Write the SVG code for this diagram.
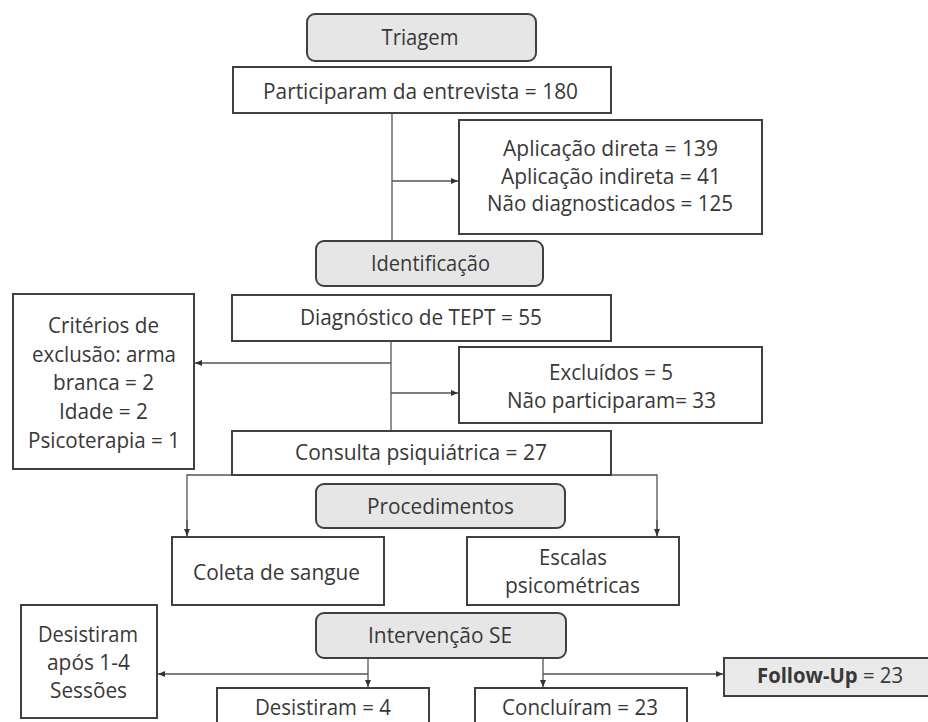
<svg xmlns="http://www.w3.org/2000/svg" width="928" height="722" viewBox="0 0 928 722">
<style>
  .box { fill: #ffffff; stroke: #404040; stroke-width: 2; }
  .hdr { fill: #e6e6e6; stroke: #404040; stroke-width: 2; }
  .fu { fill: #e9e9e9; stroke: #404040; stroke-width: 2; }
  .t { font-family: "Open Sans", "Noto Sans", "Liberation Sans", sans-serif; font-size: 21px; fill: #383838; text-anchor: middle; }
  .c { fill: none; stroke: #555555; stroke-width: 1.3; }
</style>
<defs>
  <marker id="arr" markerUnits="userSpaceOnUse" markerWidth="8" markerHeight="8" refX="7" refY="4" orient="auto">
    <path d="M0,1 L7,4 L0,7 Z" fill="#333333"/>
  </marker>
</defs>
<rect width="928" height="722" fill="#ffffff"/>

<g id="connectors">
  <path class="c" d="M392,113 V241"/>
  <path class="c" d="M392,181 H458" marker-end="url(#arr)"/>
  <path class="c" d="M391,341 V431"/>
  <path class="c" d="M391,363 H195" marker-end="url(#arr)"/>
  <path class="c" d="M391,393 H458" marker-end="url(#arr)"/>
  <path class="c" d="M187,536 V475 H657 V536" />
  <path class="c" d="M187,520 V536" marker-end="url(#arr)"/>
  <path class="c" d="M657,520 V536" marker-end="url(#arr)"/>
  <path class="c" d="M368,658 V687" marker-end="url(#arr)"/>
  <path class="c" d="M368,674 H158" marker-end="url(#arr)"/>
  <path class="c" d="M543,658 V687" marker-end="url(#arr)"/>
  <path class="c" d="M543,674 H723" marker-end="url(#arr)"/>
</g>

<g id="triagem">
  <rect class="hdr" x="307" y="14" width="229" height="47" rx="8"/>
  <text class="t" x="420" y="45" textLength="77" lengthAdjust="spacingAndGlyphs">Triagem</text>
</g>
<g id="participaram">
  <rect class="box" x="233" y="67" width="378" height="46"/>
  <text class="t" x="420.5" y="99" textLength="315" lengthAdjust="spacingAndGlyphs">Participaram da entrevista = 180</text>
</g>
<g id="aplicacao">
  <rect class="box" x="459" y="120" width="303" height="114"/>
  <text class="t" x="610.5" y="156" textLength="215" lengthAdjust="spacingAndGlyphs">Aplicação direta = 139</text>
  <text class="t" x="611" y="184" textLength="220" lengthAdjust="spacingAndGlyphs">Aplicação indireta = 41</text>
  <text class="t" x="610" y="211" textLength="246" lengthAdjust="spacingAndGlyphs">Não diagnosticados = 125</text>
</g>
<g id="identificacao">
  <rect class="hdr" x="316" y="241" width="227" height="45" rx="8"/>
  <text class="t" x="430.5" y="271" textLength="119" lengthAdjust="spacingAndGlyphs">Identificação</text>
</g>
<g id="diagnostico">
  <rect class="box" x="232" y="295" width="379" height="46"/>
  <text class="t" x="421" y="325" textLength="242" lengthAdjust="spacingAndGlyphs">Diagnóstico de TEPT = 55</text>
</g>
<g id="criterios">
  <rect class="box" x="13" y="294" width="181" height="175"/>
  <text class="t" x="103.5" y="333" textLength="111" lengthAdjust="spacingAndGlyphs">Critérios de</text>
  <text class="t" x="104" y="362" textLength="144" lengthAdjust="spacingAndGlyphs">exclusão: arma</text>
  <text class="t" x="103.5" y="390" textLength="101" lengthAdjust="spacingAndGlyphs">branca = 2</text>
  <text class="t" x="103.5" y="419" textLength="89" lengthAdjust="spacingAndGlyphs">Idade = 2</text>
  <text class="t" x="104" y="448" textLength="152" lengthAdjust="spacingAndGlyphs">Psicoterapia = 1</text>
</g>
<g id="excluidos">
  <rect class="box" x="459" y="347" width="303" height="76"/>
  <text class="t" x="611" y="380" textLength="124" lengthAdjust="spacingAndGlyphs">Excluídos = 5</text>
  <text class="t" x="611.5" y="408" textLength="209" lengthAdjust="spacingAndGlyphs">Não participaram= 33</text>
</g>
<g id="consulta">
  <rect class="box" x="232" y="431" width="379" height="44"/>
  <text class="t" x="421" y="460" textLength="252" lengthAdjust="spacingAndGlyphs">Consulta psiquiátrica = 27</text>
</g>
<g id="procedimentos">
  <rect class="hdr" x="316" y="484" width="249" height="44" rx="8"/>
  <text class="t" x="440.5" y="514" textLength="147" lengthAdjust="spacingAndGlyphs">Procedimentos</text>
</g>
<g id="coleta">
  <rect class="box" x="172" y="537" width="212" height="68"/>
  <text class="t" x="276.5" y="580" textLength="167" lengthAdjust="spacingAndGlyphs">Coleta de sangue</text>
</g>
<g id="escalas">
  <rect class="box" x="467" y="537" width="212" height="68"/>
  <text class="t" x="573" y="565" textLength="68" lengthAdjust="spacingAndGlyphs">Escalas</text>
  <text class="t" x="572.5" y="593" textLength="135" lengthAdjust="spacingAndGlyphs">psicométricas</text>
</g>
<g id="intervencao">
  <rect class="hdr" x="316" y="613" width="250" height="45" rx="8"/>
  <text class="t" x="440" y="643" textLength="144" lengthAdjust="spacingAndGlyphs">Intervenção SE</text>
</g>
<g id="desistiram-apos">
  <rect class="box" x="21" y="605" width="136" height="113"/>
  <text class="t" x="88" y="642" textLength="100" lengthAdjust="spacingAndGlyphs">Desistiram</text>
  <text class="t" x="88.5" y="670" textLength="83" lengthAdjust="spacingAndGlyphs">após 1-4</text>
  <text class="t" x="88.5" y="698" textLength="77" lengthAdjust="spacingAndGlyphs">Sessões</text>
</g>
<g id="desistiram">
  <rect class="box" x="217" y="688" width="212" height="44"/>
  <text class="t" x="323" y="715" textLength="136" lengthAdjust="spacingAndGlyphs">Desistiram = 4</text>
</g>
<g id="concluiram">
  <rect class="box" x="475" y="688" width="212" height="44"/>
  <text class="t" x="580" y="715" textLength="156" lengthAdjust="spacingAndGlyphs">Concluíram = 23</text>
</g>
<g id="followup">
  <rect class="fu" x="724" y="658" width="212" height="38"/>
  <text class="t" x="830" y="683" textLength="146" lengthAdjust="spacingAndGlyphs"><tspan font-weight="bold">Follow-Up</tspan> = 23</text>
</g>
</svg>
